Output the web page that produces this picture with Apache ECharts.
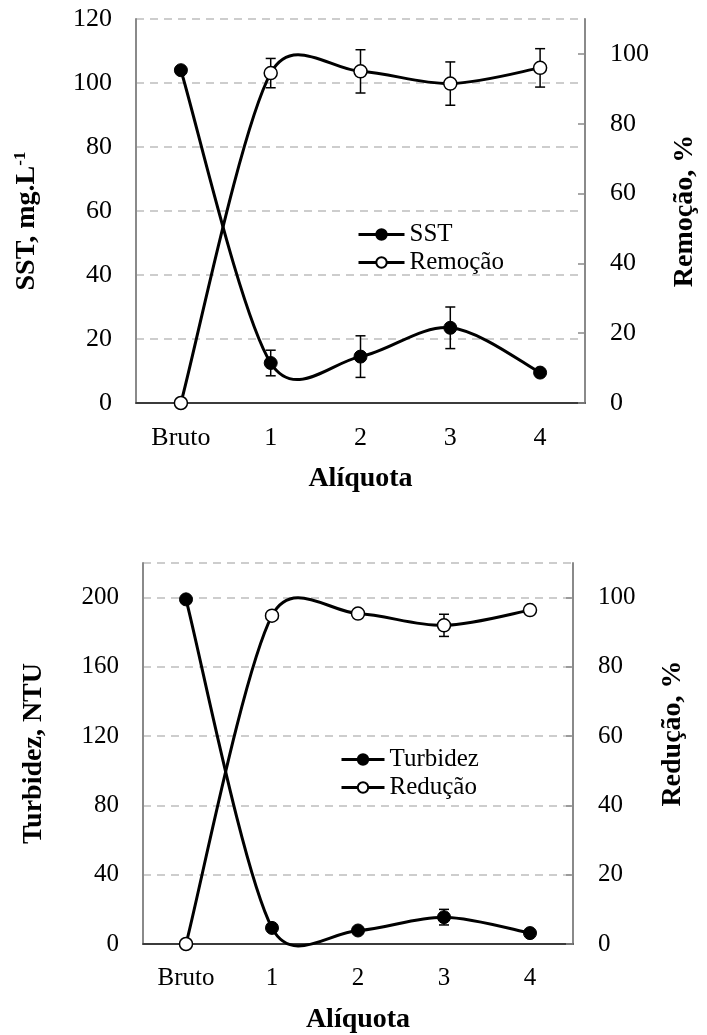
<!DOCTYPE html>
<html>
<head>
<meta charset="utf-8">
<script src="https://cdn.jsdelivr.net/npm/echarts@6/dist/echarts.min.js"></script>
<style>html,body{margin:0;padding:0;background:#fff;}#c{width:707px;height:1035px;}</style>
</head>
<body>
<div id="c"></div>
<script>
// ---- data ----
const categories = ['Bruto', '1', '2', '3', '4'];
const sst = [104, 12.5, 14.5, 23.5, 9.5];
const sstErr = [0, 4, 6.5, 6.5, 0];
const remocao = [0, 94.5, 95, 91.5, 96];
const remocaoErr = [0, 4.2, 6.2, 6.2, 5.5];
const turbidez = [199, 9.3, 7.8, 15.5, 6.3];
const turbidezErr = [0, 0, 0, 4.5, 0];
const reducao = [0, 94.8, 95.4, 92, 96.4];
const reducaoErr = [0, 0, 0, 3.2, 0];
const topLeftRange = [0, 120, 20];
const topRightRange = [0, 110, 20];
const botLeftRange = [0, 220, 40];
const botRightRange = [0, 110, 20];

const FONT = '"Liberation Serif", "Times New Roman", serif';
const GRAY = '#8a8a8a';

// smoothed line (spreadsheet-style Bezier smoothing) drawn through the axis scales
function curveSeries(values, xi, yi) {
  return {
    type: 'custom', name: '_c' + xi + yi, xAxisIndex: xi, yAxisIndex: yi, silent: true, z: 2,
    data: values.map((v, i) => [i, v]),
    renderItem: function (params, api) {
      const i = params.dataIndex;
      if (i >= values.length - 1) return null;
      const P = values.map((v, k) => api.coord([k, v]));
      function cps(k) {
        const p = P[k];
        const a = k === 0 ? p : P[k - 1];
        const b = k === P.length - 1 ? p : P[k + 1];
        const d01 = Math.hypot(p[0] - a[0], p[1] - a[1]);
        const d12 = Math.hypot(b[0] - p[0], b[1] - p[1]);
        const d02 = Math.hypot(b[0] - a[0], b[1] - a[1]);
        let f0 = 1 / 6, f1 = 1 / 6;
        if (d02 > 0) {
          if (d02 / 6 >= d12 / 2) f1 = d12 / (2 * d02);
          if (d02 / 6 >= d01 / 2) f0 = d01 / (2 * d02);
        }
        const vx = b[0] - a[0], vy = b[1] - a[1];
        return { inn: [p[0] - f0 * vx, p[1] - f0 * vy], out: [p[0] + f1 * vx, p[1] + f1 * vy] };
      }
      const c0 = cps(i), c1 = cps(i + 1);
      return {
        type: 'bezierCurve',
        shape: { x1: P[i][0], y1: P[i][1], x2: P[i + 1][0], y2: P[i + 1][1],
          cpx1: c0.out[0], cpy1: c0.out[1], cpx2: c1.inn[0], cpy2: c1.inn[1] },
        style: { stroke: '#000', lineWidth: 3, fill: null }
      };
    }
  };
}

function errSeries(values, errs, xi, yi) {
  return {
    type: 'custom', name: '_e' + xi + yi, xAxisIndex: xi, yAxisIndex: yi, silent: true, z: 3,
    data: values.map((v, i) => [i, v, errs[i]]),
    renderItem: function (params, api) {
      const e = api.value(2);
      if (!e) return null;
      const x = api.value(0), v = api.value(1);
      const hi = api.coord([x, v + e]), lo = api.coord([x, v - e]);
      const w = 5;
      const st = { stroke: '#000', lineWidth: 1.5 };
      return { type: 'group', children: [
        { type: 'line', shape: { x1: hi[0], y1: hi[1], x2: lo[0], y2: lo[1] }, style: st },
        { type: 'line', shape: { x1: hi[0] - w, y1: hi[1], x2: hi[0] + w, y2: hi[1] }, style: st },
        { type: 'line', shape: { x1: lo[0] - w, y1: lo[1], x2: lo[0] + w, y2: lo[1] }, style: st }
      ] };
    }
  };
}

function markerSeries(name, values, xi, yi, filled) {
  return {
    type: 'line', name: name, xAxisIndex: xi, yAxisIndex: yi, z: 5,
    data: values, symbol: 'circle', symbolSize: 13, showAllSymbol: true,
    lineStyle: { opacity: 0, width: 3, color: '#000' },
    itemStyle: filled ? { color: '#000', borderColor: '#000', borderWidth: 1 } : { color: '#fff', borderColor: '#000', borderWidth: 1.5 },
    emphasis: { disabled: true }, animation: false
  };
}

function xAxes(gi, fs) {
  return [{
    type: 'category', gridIndex: gi, data: categories, boundaryGap: true, position: 'bottom',
    axisLine: { lineStyle: { color: GRAY, width: 2 } },
    axisTick: { inside: true, length: 7, lineStyle: { color: GRAY, width: 1.5 } },
    axisLabel: { color: '#000', fontFamily: FONT, fontSize: fs, margin: 22 },
    name: 'Alíquota', nameLocation: 'middle', nameGap: 62,
    nameTextStyle: { color: '#000', fontFamily: FONT, fontSize: 28, fontWeight: 'bold' }
  }, {
    type: 'category', gridIndex: gi, data: categories, position: 'top',
    axisLine: { lineStyle: { color: '#222', width: 1.5 } }, axisTick: { show: false }, axisLabel: { show: false }
  }];
}

function yAxes(gi, lr, rr, fs, lname, rname, lpad, rpad) {
  return [{
    type: 'value', gridIndex: gi, position: 'left', min: lr[0], max: lr[1], interval: lr[2],
    axisLine: { show: true, lineStyle: { color: GRAY, width: 2 } }, axisTick: { show: false },
    axisLabel: { color: '#000', fontFamily: FONT, fontSize: fs, margin: 24, showMaxLabel: lr[1] % lr[2] === 0 },
    splitLine: { show: true, lineStyle: { color: '#bdbdbd', width: 1.5, type: [8, 6] } },
    name: lname, nameLocation: 'middle', nameGap: 95, nameRotate: 90,
    nameTextStyle: { color: '#000', fontFamily: FONT, fontSize: 28, fontWeight: 'bold', padding: lpad,
      rich: { a: { fontFamily: FONT, fontSize: 28, fontWeight: 'bold', color: '#000' },
              b: { fontFamily: FONT, fontSize: 17, fontWeight: 'bold', color: '#000', verticalAlign: 'top', padding: [0, 0, 12, 0] } } }
  }, {
    type: 'value', gridIndex: gi, position: 'right', min: rr[0], max: rr[1], interval: rr[2],
    axisLine: { show: true, lineStyle: { color: GRAY, width: 2 } },
    axisTick: { show: true, inside: true, length: 7, lineStyle: { color: GRAY, width: 1.5 } },
    axisLabel: { color: '#000', fontFamily: FONT, fontSize: fs, margin: 25, showMaxLabel: false },
    splitLine: { show: false },
    name: rname, nameLocation: 'middle', nameGap: 86, nameRotate: 90,
    nameTextStyle: { color: '#000', fontFamily: FONT, fontSize: 28, fontWeight: 'bold', padding: rpad }
  }];
}

const chart = echarts.init(document.getElementById('c'), null, { renderer: 'canvas' });
const option = {
  animation: false,
  backgroundColor: '#fff',
  grid: [
    { left: 136, top: 19, width: 456, height: 384, containLabel: false },
    { left: 143, top: 563, width: 430, height: 384, containLabel: false }
  ],
  xAxis: [].concat(xAxes(0, 26), xAxes(1, 25)),
  yAxis: [].concat(
    yAxes(0, topLeftRange, topRightRange, 26, '{a|SST, mg.L}{b|-1}', 'Remoção, %', [0, 20, 0, 0], [0, 0, 0, 0]),
    yAxes(1, botLeftRange, botRightRange, 25, 'Turbidez, NTU', 'Redução, %', [0, 0, 0, 0], [0, 0, 0, 40])
  ),
  legend: [{
    data: ['SST', 'Remoção'], orient: 'vertical', left: 352, top: 217, itemWidth: 46, itemHeight: 13, itemGap: 3,
    textStyle: { fontFamily: FONT, fontSize: 25, color: '#000' }, lineStyle: { opacity: 1, color: '#000', width: 3 },
    selectedMode: false
  }, {
    data: ['Turbidez', 'Redução'], orient: 'vertical', left: 335, top: 742, itemWidth: 43, itemHeight: 13, itemGap: 3,
    textStyle: { fontFamily: FONT, fontSize: 25, color: '#000' }, lineStyle: { opacity: 1, color: '#000', width: 3 },
    selectedMode: false
  }],
  series: [
    curveSeries(sst, 0, 0), curveSeries(remocao, 0, 1),
    errSeries(sst, sstErr, 0, 0), errSeries(remocao, remocaoErr, 0, 1),
    markerSeries('SST', sst, 0, 0, true), markerSeries('Remoção', remocao, 0, 1, false),
    curveSeries(turbidez, 2, 2), curveSeries(reducao, 2, 3),
    errSeries(turbidez, turbidezErr, 2, 2), errSeries(reducao, reducaoErr, 2, 3),
    markerSeries('Turbidez', turbidez, 2, 2, true), markerSeries('Redução', reducao, 2, 3, false)
  ]
};
chart.setOption(option);
</script>
</body>
</html>
